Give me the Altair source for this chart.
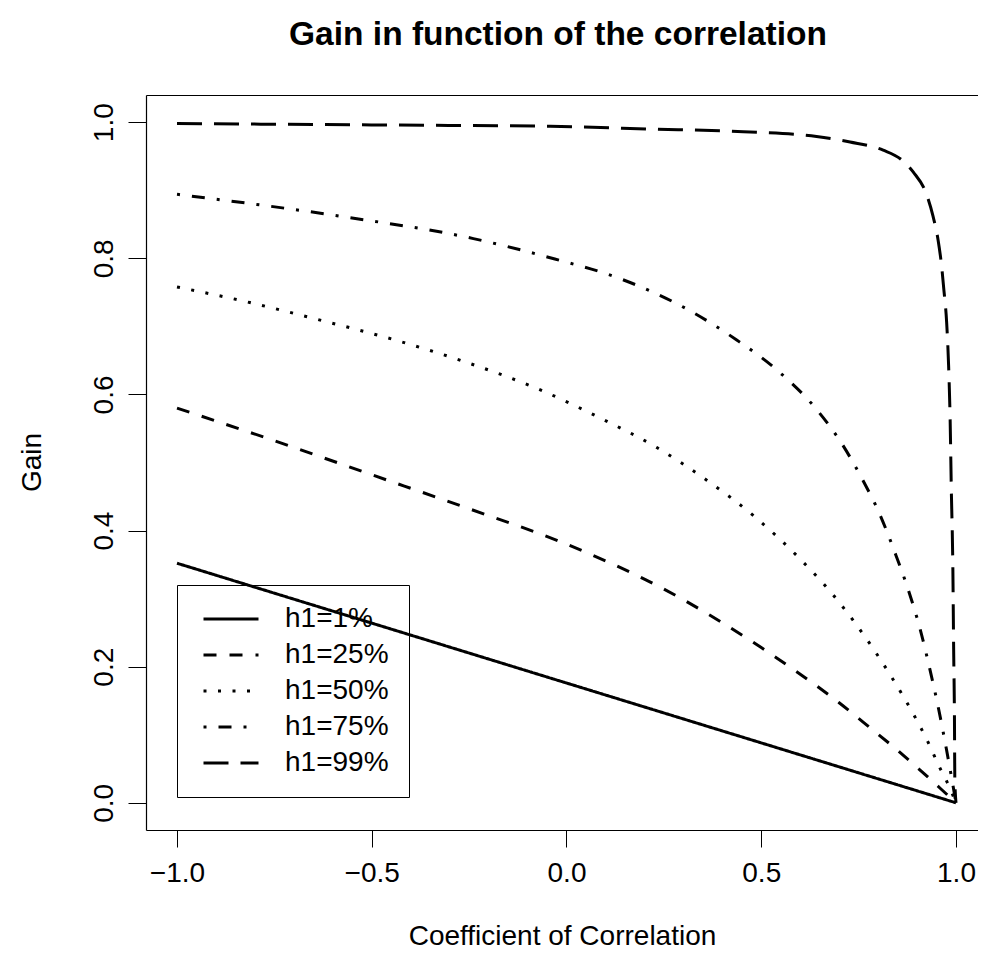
import altair as alt
import pandas as pd

# ---- data ----
series_labels = ["h1=1%", "h1=25%", "h1=50%", "h1=75%", "h1=99%"]

rho_01 = [-1.0, 0.0, 1.0]
gain_01 = [0.352, 0.176, 0.0]

rho_25 = [-1.0, -0.75, -0.5, -0.25, 0.0, 0.25, 0.5, 0.6, 0.7, 0.78, 0.85, 0.91, 0.96, 1.0]
gain_25 = [0.580, 0.532, 0.482, 0.432, 0.380, 0.314, 0.228, 0.189, 0.147, 0.110, 0.077,
           0.047, 0.021, 0.0]

rho_50 = [-1.0, -0.813, -0.624, -0.440, -0.256, -0.077, 0.095, 0.232, 0.360, 0.484,
          0.595, 0.698, 0.788, 0.831, 0.889, 0.925, 0.958, 0.975, 1.0]
gain_50 = [0.758, 0.735, 0.708, 0.680, 0.647, 0.609, 0.563, 0.522, 0.474, 0.420,
           0.361, 0.296, 0.226, 0.188, 0.132, 0.093, 0.052, 0.033, 0.0]

rho_75 = [-1.0, -0.582, -0.239, -0.030, 0.129, 0.317, 0.437, 0.540, 0.642, 0.702,
          0.758, 0.805, 0.843, 0.878, 0.908, 0.933, 0.955, 0.975, 1.0]
gain_75 = [0.894, 0.862, 0.829, 0.799, 0.772, 0.723, 0.680, 0.636, 0.578, 0.532,
           0.477, 0.423, 0.368, 0.312, 0.255, 0.196, 0.139, 0.080, 0.0]

rho_99 = [-1.0, -0.5, -0.042, 0.214, 0.454, 0.642, 0.728, 0.813, 0.860, 0.890,
          0.925, 0.941, 0.954, 0.962, 0.969, 0.976, 0.981, 0.985, 0.988, 0.992,
          0.994, 0.996, 0.997, 1.0]
gain_99 = [0.998, 0.996, 0.994, 0.990, 0.986, 0.979, 0.971, 0.959, 0.945, 0.927,
           0.893, 0.862, 0.827, 0.794, 0.753, 0.706, 0.643, 0.562, 0.460, 0.342,
           0.225, 0.129, 0.034, 0.0]

x_ticks = [-1.0, -0.5, 0.0, 0.5, 1.0]
y_ticks = [0.0, 0.2, 0.4, 0.6, 0.8, 1.0]

dash_styles = [[1, 0], [13, 13], [3, 11.5], [3, 12, 13, 12], [25, 12]]

rows = []
for lab, xs, ys in zip(series_labels,
                       [rho_01, rho_25, rho_50, rho_75, rho_99],
                       [gain_01, gain_25, gain_50, gain_75, gain_99]):
    for a, b in zip(xs, ys):
        rows.append({"series": lab, "rho": a, "gain": b})
df = pd.DataFrame(rows)

FONT = "Liberation Sans"
x_scale = alt.Scale(domain=[-1.0796, 1.0565], nice=False, zero=False)
y_scale = alt.Scale(domain=[-0.04, 1.04], nice=False, zero=False)

lines = alt.Chart(df).mark_line(
    strokeWidth=3, color="black", interpolate="monotone"
).encode(
    x=alt.X("rho:Q", scale=x_scale,
            axis=alt.Axis(values=x_ticks, format=".1f", title="Coefficient of Correlation",
                          grid=False, domain=True, domainColor="black", domainWidth=1.2,
                          tickSize=17, tickColor="black",
                          tickWidth=1, labelFontSize=28, labelFont=FONT, labelColor="black",
                          labelPadding=12, labelBaseline="top", labelFlush=False,
                          titleFontSize=28, titleFont=FONT, titleFontWeight="normal",
                          titleColor="black", titleY=114, titleBaseline="alphabetic")),
    y=alt.Y("gain:Q", scale=y_scale,
            axis=alt.Axis(values=y_ticks, format=".1f", title="Gain",
                          grid=False, domain=True, domainColor="black", domainWidth=1.2,
                          tickSize=18, tickColor="black",
                          tickWidth=1, labelFontSize=28, labelFont=FONT, labelColor="black",
                          labelAngle=270, labelAlign="center", labelBaseline="alphabetic",
                          labelPadding=16, labelFlush=False,
                          titleFontSize=28, titleFont=FONT, titleFontWeight="normal",
                          titleColor="black", titleAngle=270, titleX=-106, titleY=367,
                          titleAlign="center", titleBaseline="alphabetic")),
    strokeDash=alt.StrokeDash(
        "series:N",
        scale=alt.Scale(domain=series_labels, range=dash_styles),
        legend=alt.Legend(title=None, orient="none", legendX=31, legendY=490,
                          strokeColor="black", padding=20, cornerRadius=0,
                          symbolType="M-2.5,0H2.5", symbolSize=484,
                          symbolStrokeWidth=3, symbolStrokeColor="black",
                          symbolFillColor="transparent",
                          labelFontSize=28, labelFont=FONT, labelColor="black",
                          labelOffset=40, rowPadding=8, symbolOffset=20),
    ),
)

# invisible layer that only carries the top edge of the box (right edge lies off the page)
top_edge = alt.Chart(df).mark_line(opacity=0).encode(
    x=alt.X("rho:Q", scale=x_scale,
            axis=alt.Axis(orient="top", domain=True, domainColor="black", domainWidth=1.2,
                          ticks=False, labels=False, grid=False, title=None)),
    y=alt.Y("gain:Q", scale=y_scale, axis=None),
    detail="series:N",
)

chart = alt.layer(lines, top_edge).resolve_axis(x="independent", y="independent").properties(
    width=832,
    height=735,
    title=alt.TitleParams("Gain in function of the correlation", font=FONT, fontSize=33.5,
                          fontWeight="bold", color="black", anchor="middle",
                          baseline="alphabetic", offset=17, dx=-4),
    autosize=alt.AutoSizeParams(type="none"),
    padding={"left": 138, "top": 87, "right": 0, "bottom": 134},
).configure(
    background="white"
).configure_view(
    stroke=None
)

chart.save("out.html", embed_options={"renderer": "svg", "actions": False})
